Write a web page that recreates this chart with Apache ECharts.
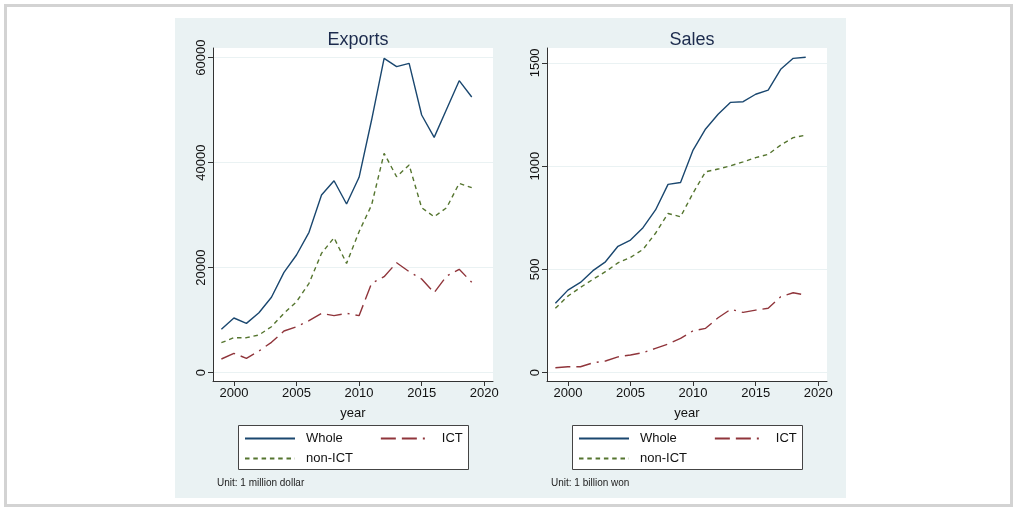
<!DOCTYPE html>
<html>
<head>
<meta charset="utf-8">
<script src="https://cdn.jsdelivr.net/npm/echarts@6/dist/echarts.min.js"></script>
<style>
  html, body { margin: 0; padding: 0; background: #ffffff; }
  #chart { width: 1015px; height: 508px; }
</style>
</head>
<body>
<div id="chart"></div>
<script>
// Years on the horizontal axis
const years = [1999, 2000, 2001, 2002, 2003, 2004, 2005, 2006, 2007, 2008, 2009,
               2010, 2011, 2012, 2013, 2014, 2015, 2016, 2017, 2018, 2019];

// Exports (unit: 1 million dollar)
const exportsWhole  = [8260, 10420, 9400, 11430, 14360, 19120, 22420, 26740, 33850, 36570, 32130,
                       37220, 48130, 59880, 58290, 58930, 49090, 44830, 50230, 55620, 52510];
const exportsICT    = [2610, 3690, 2740, 4130, 5790, 7940, 8760, 9900, 11310, 10860, 11310,
                       10860, 17020, 18290, 20950, 19240, 17850, 15240, 18420, 19700, 17220];
const exportsNonICT = [5710, 6670, 6670, 7180, 8760, 11310, 13520, 17020, 22740, 25710, 20820,
                       26860, 31940, 41790, 37330, 39560, 31430, 29710, 31430, 36070, 35240];

// Sales (unit: 1 billion won)
const salesWhole  = [336, 400, 437, 494, 537, 612, 642, 702, 788, 912, 921,
                     1078, 1180, 1251, 1309, 1312, 1348, 1368, 1469, 1522, 1527];
const salesICT    = [24, 29, 29, 48, 57, 77, 86, 97, 118, 139, 166,
                     203, 215, 266, 307, 292, 303, 312, 368, 387, 376];
const salesNonICT = [312, 371, 413, 452, 489, 532, 558, 597, 675, 771, 755,
                     870, 973, 986, 1002, 1021, 1041, 1057, 1102, 1138, 1150];

// Tick labels
const yearTicks   = [2000, 2005, 2010, 2015, 2020];
const exportTicks = [0, 20000, 40000, 60000];
const salesTicks  = [0, 500, 1000, 1500];

const NAVY = '#1a476f', MAROON = '#90353b', GREEN = '#55752f';
const BG = '#eaf2f3';
const FONT = 'Liberation Sans, Arial, sans-serif';

const pairs = vals => years.map((y, i) => [y, vals[i]]);
const plain = v => String(Math.round(v));

function xAxisFor(gridIndex) {
  return {
    gridIndex, type: 'value', min: 1998.33, max: 2020.7,
    name: 'year', nameLocation: 'middle', nameGap: 26,
    nameTextStyle: { color: '#111', fontSize: 13, fontFamily: FONT },
    axisLine: { show: true, onZero: false, lineStyle: { color: '#333', width: 1 } },
    axisTick: { show: true, length: 5, customValues: yearTicks, lineStyle: { color: '#333' } },
    axisLabel: { customValues: yearTicks, formatter: plain, color: '#111', fontSize: 13, fontFamily: FONT, margin: 6 },
    splitLine: { show: false }
  };
}
function yAxisFor(gridIndex, min, max, ticks) {
  return {
    gridIndex, type: 'value', min, max,
    axisLine: { show: true, onZero: false, lineStyle: { color: '#333', width: 1 } },
    axisTick: { show: true, length: 5, customValues: ticks, lineStyle: { color: '#333' } },
    axisLabel: { customValues: ticks, formatter: plain, rotate: 90, color: '#111', fontSize: 13, fontFamily: FONT, margin: 5 },
    splitLine: { show: true, lineStyle: { color: BG, width: 1 } }
  };
}
function lineSeries(name, idx, vals, color, dash) {
  return {
    name, type: 'line', xAxisIndex: idx, yAxisIndex: idx,
    data: pairs(vals), symbol: 'none', silent: true, animation: false,
    lineStyle: { color, width: 1.4, type: dash },
    itemStyle: { color }
  };
}
function legendRow(left, top, names) {
  return {
    left, top, orient: 'horizontal', data: names, padding: 0,
    itemWidth: 50, itemHeight: 12, itemGap: 37, selectedMode: false,
    itemStyle: { opacity: 0, borderWidth: 0 },
    textStyle: { color: '#111', fontSize: 13, fontFamily: FONT, padding: [0, 0, 0, 6] }
  };
}

const ICT_DASH = [15, 6, 15, 6, 2, 6];
const NON_DASH = [4.5, 3.8];

const chart = echarts.init(document.getElementById('chart'), null, { renderer: 'canvas' });
chart.setOption({
  backgroundColor: '#ffffff',
  animation: false,
  graphic: [
    { type: 'rect', z: -10, silent: true, shape: { x: 5.5, y: 5.5, width: 1006, height: 500 },
      style: { fill: '#ffffff', stroke: '#d3d3d3', lineWidth: 3 } },
    { type: 'rect', z: -9, silent: true, shape: { x: 175, y: 18, width: 671, height: 480 },
      style: { fill: BG } },
    { type: 'rect', z: -8, silent: true, shape: { x: 238.5, y: 425.5, width: 230, height: 44 },
      style: { fill: '#ffffff', stroke: '#444', lineWidth: 1 } },
    { type: 'rect', z: -8, silent: true, shape: { x: 572.5, y: 425.5, width: 230, height: 44 },
      style: { fill: '#ffffff', stroke: '#444', lineWidth: 1 } },
    { type: 'text', silent: true, left: 217, top: 478,
      style: { text: 'Unit: 1 million dollar', fill: '#222', font: '10px ' + FONT } },
    { type: 'text', silent: true, left: 551, top: 478,
      style: { text: 'Unit: 1 billion won', fill: '#222', font: '10px ' + FONT } }
  ],
  title: [
    { text: 'Exports', left: 353, top: 26, textAlign: 'center',
      textStyle: { color: '#1c2b4d', fontSize: 18, fontWeight: 'normal', fontFamily: FONT } },
    { text: 'Sales', left: 687, top: 26, textAlign: 'center',
      textStyle: { color: '#1c2b4d', fontSize: 18, fontWeight: 'normal', fontFamily: FONT } }
  ],
  legend: [
    legendRow(244, 432, ['Whole', 'ICT']),
    legendRow(244, 452, ['non-ICT']),
    legendRow(578, 432, ['Whole', 'ICT']),
    legendRow(578, 452, ['non-ICT'])
  ],
  grid: [
    { left: 213, top: 48, width: 280, height: 333, show: true, backgroundColor: '#ffffff', borderWidth: 0 },
    { left: 547, top: 48, width: 280, height: 333, show: true, backgroundColor: '#ffffff', borderWidth: 0 }
  ],
  xAxis: [xAxisFor(0), xAxisFor(1)],
  yAxis: [
    yAxisFor(0, -1581, 61848, exportTicks),
    yAxisFor(1, -40, 1572, salesTicks)
  ],
  series: [
    lineSeries('Whole', 0, exportsWhole, NAVY, 'solid'),
    lineSeries('ICT', 0, exportsICT, MAROON, ICT_DASH),
    lineSeries('non-ICT', 0, exportsNonICT, GREEN, NON_DASH),
    lineSeries('Whole', 1, salesWhole, NAVY, 'solid'),
    lineSeries('ICT', 1, salesICT, MAROON, ICT_DASH),
    lineSeries('non-ICT', 1, salesNonICT, GREEN, NON_DASH)
  ]
});
</script>
</body>
</html>
